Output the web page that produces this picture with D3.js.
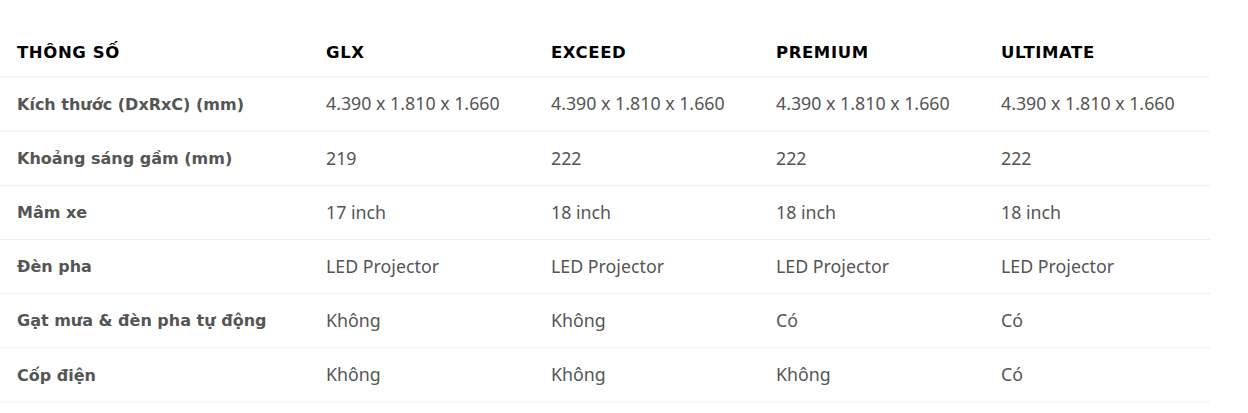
<!DOCTYPE html>
<html><head><meta charset="utf-8">
<script src="https://cdn.jsdelivr.net/npm/d3@7"></script>
<style>body{margin:0;background:#fff}</style></head>
<body><svg id="c" width="1248" height="413"></svg>
<script>
const columns = ["THÔNG SỐ","GLX","EXCEED","PREMIUM","ULTIMATE"];
const rowLabels = ["Kích thước (DxRxC) (mm)","Khoảng sáng gầm (mm)","Mâm xe","Đèn pha","Gạt mưa & đèn pha tự động","Cốp điện"];
const glx = ["4.390 x 1.810 x 1.660","219","17 inch","LED Projector","Không","Không"];
const exceed = ["4.390 x 1.810 x 1.660","222","18 inch","LED Projector","Không","Không"];
const premium = ["4.390 x 1.810 x 1.660","222","18 inch","LED Projector","Có","Không"];
const ultimate = ["4.390 x 1.810 x 1.660","222","18 inch","LED Projector","Có","Có"];
const series=[glx,exceed,premium,ultimate];
const svg=d3.select("#c");
const xd=d3.scaleLinear().domain([1,4]).range([326,1001]);
const colX=i=>i===0?17:xd(i);
const y=d3.scaleLinear().domain([0,6]).range([51,376]);
svg.selectAll("text.h").data(columns).join("text")
 .attr("x",(d,i)=>colX(i)).attr("y",y(0)+1).attr("dy","0.35em")
 .attr("font-family","DejaVu Sans").attr("font-weight","bold").attr("font-size",16.5).attr("letter-spacing",0.6).attr("fill","#000").text(d=>d);
const lineY=i=>y(i)+26;
svg.selectAll("line").data(d3.range(7)).join("line")
 .attr("x1",0).attr("x2",1210).attr("y1",i=>lineY(i)).attr("y2",i=>lineY(i))
 .attr("stroke","#eeeeee").attr("stroke-width",1);
rowLabels.forEach((lab,r)=>{
 svg.append("text").attr("x",colX(0)).attr("y",y(r+1)-1).attr("dy","0.35em")
  .attr("font-family","DejaVu Sans").attr("font-weight","bold").attr("font-size",16).attr("fill","#555").text(lab);
 series.forEach((s,c)=>{
  svg.append("text").attr("x",colX(c+1)).attr("y",y(r+1)-1).attr("dy","0.35em")
   .attr("font-family","Noto Sans").attr("font-size",17.8).attr("fill","#555").text(s[r]);
 });
});
</script></body></html>
